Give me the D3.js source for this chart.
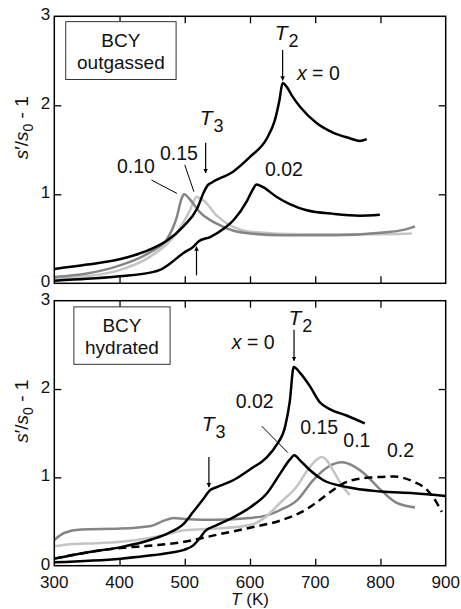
<!DOCTYPE html>
<html>
<head>
<meta charset="utf-8">
<script src="https://cdn.jsdelivr.net/npm/d3@7"></script>
<style>
  body { margin: 0; background: #fff; }
  svg text { font-family: "Liberation Sans", Arial, sans-serif; fill: #111; }
</style>
</head>
<body>
<div id="chart"></div>
<script>
// ---- data: [T (K), s'/s0 - 1] ----
var outgassed_x0   = [[300,0.16],[350,0.21],[400,0.27],[447,0.38],[473,0.48],[498,0.64],[519,0.84],[529,1.02],[535,1.10],[541,1.13],[575,1.26],[600,1.42],[626,1.63],[638,1.83],[645,2.05],[650,2.25],[656,2.21],[665,2.10],[677,1.98],[702,1.80],[728,1.69],[753,1.63],[768,1.60],[779,1.62]];
var outgassed_x002 = [[300,0.03],[350,0.05],[400,0.08],[447,0.12],[462,0.15],[477,0.22],[498,0.34],[513,0.41],[521,0.47],[539,0.52],[559,0.61],[576,0.72],[595,0.92],[604,1.05],[610,1.11],[620,1.08],[641,0.97],[661,0.89],[687,0.82],[728,0.78],[768,0.76],[799,0.77]];
var outgassed_x010 = [[300,0.07],[350,0.11],[396,0.19],[447,0.35],[473,0.50],[488,0.75],[495,0.95],[499,1.00],[507,0.95],[523,0.80],[549,0.67],[575,0.59],[600,0.56],[650,0.54],[728,0.54],[804,0.57],[835,0.60],[853,0.64]];
var outgassed_x015 = [[300,0.05],[350,0.08],[396,0.14],[447,0.30],[488,0.57],[508,0.82],[518,0.97],[529,0.93],[549,0.76],[575,0.63],[600,0.58],[677,0.55],[779,0.55],[848,0.56]];

var hydrated_x0   = [[300,0.08],[350,0.15],[402,0.21],[450,0.30],[475,0.37],[499,0.48],[513,0.61],[529,0.76],[538,0.85],[549,0.89],[575,0.97],[600,1.09],[626,1.23],[641,1.37],[654,1.58],[661,1.86],[667,2.25],[677,2.18],[692,2.03],[707,1.85],[723,1.77],[748,1.70],[776,1.61]];
var hydrated_x002 = [[300,0.04],[402,0.08],[453,0.12],[480,0.15],[499,0.18],[513,0.23],[523,0.31],[531,0.39],[549,0.46],[575,0.55],[600,0.66],[626,0.82],[646,1.04],[661,1.20],[668,1.25],[677,1.19],[692,1.08],[712,0.97],[748,0.89],[800,0.84],[851,0.82],[900,0.79]];
var hydrated_x010 = [[300,0.29],[315,0.37],[341,0.41],[402,0.42],[448,0.45],[468,0.51],[483,0.54],[499,0.53],[549,0.52],[600,0.54],[626,0.57],[646,0.63],[672,0.74],[697,0.97],[720,1.12],[741,1.17],[758,1.13],[774,1.05],[800,0.86],[825,0.71],[853,0.66]];
var hydrated_x015 = [[300,0.22],[320,0.24],[350,0.25],[402,0.27],[450,0.32],[475,0.36],[499,0.40],[549,0.42],[600,0.46],[620,0.53],[646,0.71],[672,0.90],[690,1.10],[702,1.20],[710,1.23],[718,1.19],[728,1.07],[740,0.92],[753,0.80]];
var hydrated_x020 = [[300,0.08],[350,0.15],[402,0.20],[453,0.23],[499,0.27],[549,0.35],[600,0.43],[646,0.51],[677,0.60],[697,0.69],[728,0.86],[748,0.95],[764,0.98],[790,1.00],[820,1.01],[851,0.95],[871,0.86],[884,0.74],[894,0.61]];

var xTicks = [300, 400, 500, 600, 700, 800, 900];
var yTicks = [0, 1, 2, 3];

var width = 461, height = 609;
var left = 54.3, right = 445.7;

var svg = d3.select("#chart").append("svg")
    .attr("width", width)
    .attr("height", height);

var x = d3.scaleLinear().domain([300, 900]).range([left, right]);

// panel definitions
var panels = [
  {
    top: 16.3, bottom: 283.3, showX: false,
    box: [317.5, 486.7, 2.94, 2.29], boxText: ["BCY", "outgassed"],
    series: [
      {data: outgassed_x015, color: "#c4c4c4"},
      {data: outgassed_x010, color: "#858585"},
      {data: outgassed_x002, color: "#000"},
      {data: outgassed_x0,   color: "#000"}
    ],
    labels: [
      {t: 672, v: 2.28, text: "x = 0", italicX: true},
      {t: 396, v: 1.24, text: "0.10"},
      {t: 462, v: 1.385, text: "0.15"},
      {t: 623, v: 1.21, text: "0.02"}
    ],
    temps: [{t: 638, v: 2.73, sub: "2"}, {t: 523, v: 1.78, sub: "3"}],
    arrows: [
      {t: 650, v1: 2.62, v2: 2.28},
      {t: 532, v1: 1.58, v2: 1.24},
      {t: 518, v1: 0.09, v2: 0.41}
    ],
    leaders: [[449, 1.16, 488, 1.01], [500, 1.33, 514, 1.03]]
  },
  {
    top: 300.7, bottom: 565.7, showX: true,
    box: [330, 477.5, 2.93, 2.28], boxText: ["BCY", "hydrated"],
    series: [
      {data: hydrated_x010, color: "#858585"},
      {data: hydrated_x015, color: "#c4c4c4"},
      {data: hydrated_x020, color: "#000", dash: "8,5"},
      {data: hydrated_x002, color: "#000"},
      {data: hydrated_x0,   color: "#000"}
    ],
    labels: [
      {t: 572, v: 2.45, text: "x = 0", italicX: true},
      {t: 578, v: 1.78, text: "0.02"},
      {t: 677, v: 1.49, text: "0.15"},
      {t: 743, v: 1.34, text: "0.1"},
      {t: 810, v: 1.23, text: "0.2"}
    ],
    temps: [{t: 659, v: 2.73, sub: "2"}, {t: 526, v: 1.52, sub: "3"}],
    arrows: [
      {t: 667.5, v1: 2.67, v2: 2.32},
      {t: 537, v1: 1.23, v2: 0.89}
    ],
    leaders: [[618, 1.58, 658, 1.28]]
  }
];

svg.append("defs").append("marker")
    .attr("id", "head")
    .attr("viewBox", "0 0 10 10")
    .attr("refX", 9).attr("refY", 5)
    .attr("markerWidth", 4.5).attr("markerHeight", 6)
    .attr("markerUnits", "userSpaceOnUse")
    .attr("orient", "auto")
    .append("path").attr("d", "M0,0 L10,5 L0,10 Z").attr("fill", "#000");

panels.forEach(function (p, i) {
  var y = d3.scaleLinear().domain([0, 3]).range([p.bottom, p.top]);
  var g = svg.append("g");

  g.append("clipPath").attr("id", "clip" + i)
    .append("rect")
    .attr("x", left).attr("y", p.top)
    .attr("width", right - left).attr("height", p.bottom - p.top);

  // curves
  var line = d3.line()
      .x(function (d) { return x(d[0]); })
      .y(function (d) { return y(d[1]); })
      .curve(d3.curveMonotoneX);

  g.append("g").attr("clip-path", "url(#clip" + i + ")")
    .selectAll("path")
    .data(p.series)
    .enter()
    .append("path")
    .attr("d", function (s) { return line(s.data); })
    .attr("fill", "none")
    .attr("stroke", function (s) { return s.color; })
    .attr("stroke-width", 2.5)
    .attr("stroke-linejoin", "round")
    .attr("stroke-dasharray", function (s) { return s.dash || null; });

  // frame with inward ticks on all sides
  var inner = xTicks.slice(1, -1);
  g.append("g").attr("transform", "translate(0," + p.bottom + ")")
    .call(d3.axisBottom(x).tickValues(inner).tickSize(-7).tickFormat(""));
  g.append("g").attr("transform", "translate(0," + p.top + ")")
    .call(d3.axisTop(x).tickValues(inner).tickSize(-7).tickFormat(""));
  g.append("g").attr("transform", "translate(" + left + ",0)")
    .call(d3.axisLeft(y).tickValues([1, 2]).tickSize(-7).tickFormat(""));
  g.append("g").attr("transform", "translate(" + right + ",0)")
    .call(d3.axisRight(y).tickValues([1, 2]).tickSize(-7).tickFormat(""));
  g.selectAll(".domain").remove();
  g.selectAll(".tick line").attr("stroke", "#000").attr("stroke-width", 1.3);

  g.append("rect")
    .attr("x", left).attr("y", p.top)
    .attr("width", right - left).attr("height", p.bottom - p.top)
    .attr("fill", "none").attr("stroke", "#000").attr("stroke-width", 1.5);

  // y tick labels
  g.selectAll(".ylab").data(yTicks).enter().append("text")
    .attr("x", left - 4)
    .attr("y", function (d) { return y(d) + 4; })
    .attr("text-anchor", "end")
    .attr("font-size", 17)
    .text(function (d) { return d; });

  // x tick labels
  if (p.showX) {
    g.selectAll(".xlab").data(xTicks).enter().append("text")
      .attr("x", function (d) { return x(d); })
      .attr("y", p.bottom + 22)
      .attr("text-anchor", "middle")
      .attr("font-size", 17)
      .text(function (d) { return d; });
    var xt = g.append("text")
      .attr("x", (left + right) / 2).attr("y", p.bottom + 39)
      .attr("text-anchor", "middle").attr("font-size", 17);
    xt.append("tspan").attr("font-style", "italic").text("T");
    xt.append("tspan").text(" (K)");
  }

  // y axis title
  var cy = (p.top + p.bottom) / 2 - 22;
  var yt = g.append("text")
    .attr("transform", "translate(28," + cy + ") rotate(-90)")
    .attr("text-anchor", "middle").attr("font-size", 19);
  yt.append("tspan").attr("font-style", "italic").text("s");
  yt.append("tspan").text("\u2032/");
  yt.append("tspan").attr("font-style", "italic").text("s");
  yt.append("tspan").attr("font-size", 14).attr("dy", 5).text("0");
  yt.append("tspan").attr("dy", -5).text(" - 1");

  // legend box
  g.append("rect")
    .attr("x", x(p.box[0])).attr("y", y(p.box[2]))
    .attr("width", x(p.box[1]) - x(p.box[0]))
    .attr("height", y(p.box[3]) - y(p.box[2]))
    .attr("fill", "#fff").attr("stroke", "#333").attr("stroke-width", 1);
  g.selectAll(".boxtext").data(p.boxText).enter().append("text")
    .attr("x", (x(p.box[0]) + x(p.box[1])) / 2)
    .attr("y", function (d, k) { return y(p.box[2]) + 25 + k * 22; })
    .attr("text-anchor", "middle")
    .attr("font-size", 19)
    .text(function (d) { return d; });

  // curve labels
  p.labels.forEach(function (l) {
    var t = g.append("text")
      .attr("x", x(l.t)).attr("y", y(l.v))
      .attr("font-size", 19.5);
    if (l.italicX) {
      t.append("tspan").attr("font-style", "italic").text("x");
      t.append("tspan").text(" = 0");
    } else {
      t.text(l.text);
    }
  });

  // transition temperatures
  p.temps.forEach(function (l) {
    var t = g.append("text")
      .attr("x", x(l.t)).attr("y", y(l.v))
      .attr("font-size", 21);
    t.append("tspan").attr("font-style", "italic").text("T");
    t.append("tspan").attr("font-size", 18).attr("dy", 7).attr("dx", 1).text(l.sub);
  });

  // arrows
  g.selectAll(".arrow").data(p.arrows).enter().append("line")
    .attr("x1", function (a) { return x(a.t); })
    .attr("x2", function (a) { return x(a.t); })
    .attr("y1", function (a) { return y(a.v1); })
    .attr("y2", function (a) { return y(a.v2); })
    .attr("stroke", "#000").attr("stroke-width", 1.2)
    .attr("marker-end", "url(#head)");

  // leader lines
  g.selectAll(".leader").data(p.leaders).enter().append("line")
    .attr("x1", function (a) { return x(a[0]); })
    .attr("y1", function (a) { return y(a[1]); })
    .attr("x2", function (a) { return x(a[2]); })
    .attr("y2", function (a) { return y(a[3]); })
    .attr("stroke", "#000").attr("stroke-width", 1);
});
</script>
</body>
</html>
